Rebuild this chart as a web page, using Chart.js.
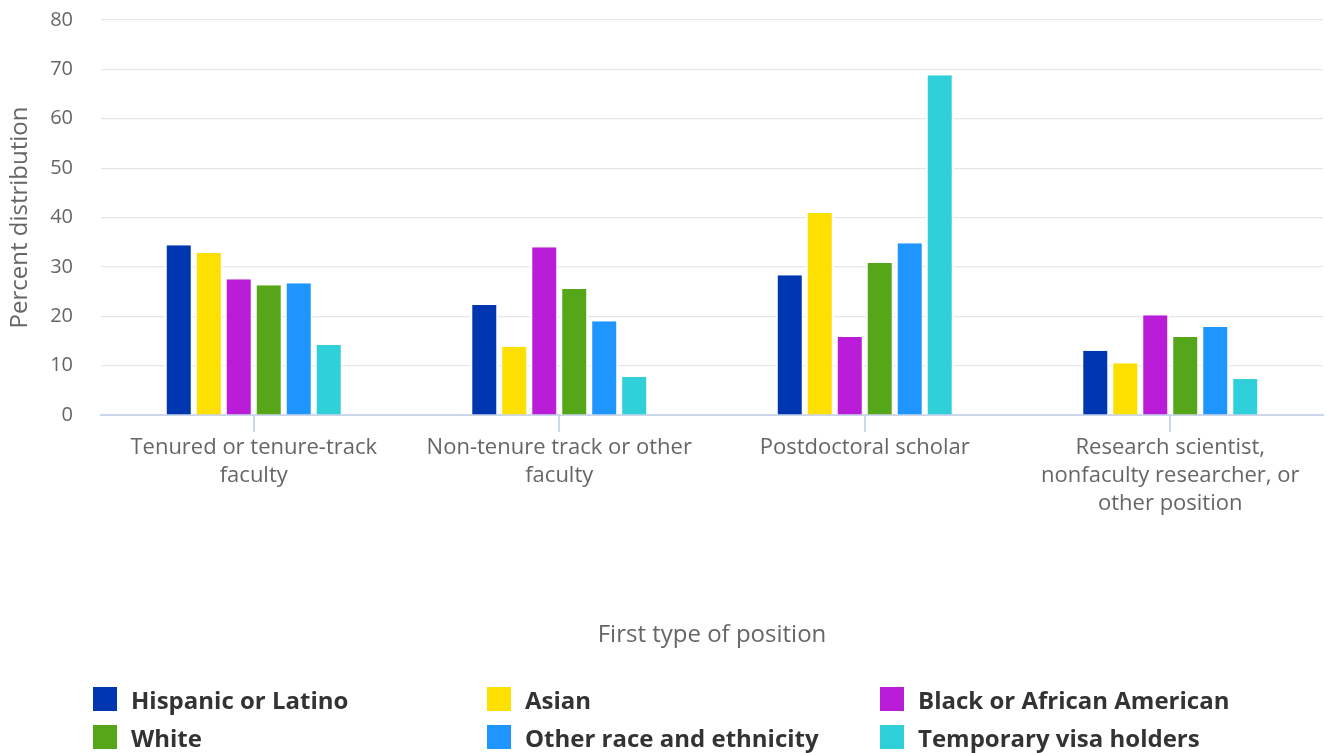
<!DOCTYPE html>
<html>
<head>
<meta charset="utf-8">
<script src="https://cdn.jsdelivr.net/npm/chart.js@4/dist/chart.umd.min.js"></script>
<style>
  html, body { margin:0; padding:0; background:#fff; }
  #wrap { position:relative; width:1327px; height:753px; font-family:"Open Sans", sans-serif; }
  #c { position:absolute; left:0; top:0; }
  #legend { position:absolute; left:0; top:0; width:1327px; height:753px; pointer-events:none; }
  .item { position:absolute; display:flex; align-items:center; font-weight:700; font-size:24px; color:#333; white-space:nowrap; }
  .box { width:24px; height:24px; margin-right:14px; flex:none; }
</style>
</head>
<body>
<div id="wrap">
  <canvas id="c" width="1327" height="753"></canvas>
  <div id="legend"></div>
</div>
<script>
const categories = [
  ["Tenured or tenure-track", "faculty"],
  ["Non-tenure track or other", "faculty"],
  ["Postdoctoral scholar"],
  ["Research scientist,", "nonfaculty researcher, or", "other position"]
];
const seriesNames = ["Hispanic or Latino", "Asian", "Black or African American", "White", "Other race and ethnicity", "Temporary visa holders"];
const hispanic = [34.4, 22.3, 28.3, 13.0];
const asian    = [32.8, 13.8, 40.9, 10.5];
const black    = [27.5, 34.0, 15.8, 20.2];
const white    = [26.3, 25.5, 30.8, 15.8];
const other    = [26.7, 19.0, 34.8, 17.8];
const visa     = [14.2, 7.7, 68.8, 7.3];
const seriesColors = ["#0037B1", "#FDE000", "#B91DD7", "#56A61A", "#1E95FF", "#2FD0DA"];
const yTicks = [0, 10, 20, 30, 40, 50, 60, 70, 80];
const yTitle = "Percent distribution";
const xTitle = "First type of position";

const values = [hispanic, asian, black, white, other, visa];
const datasets = seriesNames.map((n, i) => ({
  label: n,
  data: values[i],
  backgroundColor: seriesColors[i],
  borderColor: "#ffffff",
  borderWidth: {left: 2, right: 2, top: 0, bottom: 0},
  borderSkipped: false,
  categoryPercentage: 0.589,
  barPercentage: 0.933
}));

new Chart(document.getElementById("c"), {
  type: "bar",
  data: { labels: categories, datasets },
  options: {
    responsive: false,
    animation: false,
    layout: { padding: { top: 20, left: 0, right: 4, bottom: 100 } },
    plugins: { legend: { display: false }, tooltip: { enabled: false } },
    scales: {
      x: {
        afterFit: (s) => { s.height = 238; },
        grid: { display: true, drawOnChartArea: false, drawTicks: true, tickLength: 17, color: "#ccd6eb", lineWidth: 2, offset: false },
        border: { display: true, color: "#ccd6eb", width: 2 },
        ticks: { color: "#666", font: { family: "Open Sans", size: 22, lineHeight: 1.27 }, padding: 2, maxRotation: 0, autoSkip: false },
        title: { display: true, text: xTitle, color: "#666", font: { family: "Open Sans", size: 24 }, padding: { top: 0, bottom: 3 } }
      },
      y: {
        min: 0, max: 80,
        afterBuildTicks: (s) => { s.ticks = yTicks.map(v => ({ value: v })); },
        afterFit: (s) => { s.width = 101; },
        grid: { color: "#e6e6e6", lineWidth: 1.2, drawTicks: true, tickLength: 28, tickColor: "rgba(0,0,0,0)" },
        border: { display: false },
        ticks: { color: "#666", font: { family: "Open Sans", size: 20 }, padding: 0 },
        title: { display: true, text: yTitle, color: "#666", font: { family: "Open Sans", size: 24 }, padding: { top: 6, bottom: 0 } }
      }
    }
  }
});

const legend = document.getElementById("legend");
const colX = [93, 487, 880];
const rowY = [687, 725];
seriesNames.forEach((n, i) => {
  const d = document.createElement("div");
  d.className = "item";
  d.style.left = colX[i % 3] + "px";
  d.style.top = rowY[Math.floor(i / 3)] + "px";
  d.style.height = "24px";
  const b = document.createElement("div");
  b.className = "box";
  b.style.background = seriesColors[i];
  const t = document.createElement("span");
  t.textContent = n;
  d.appendChild(b); d.appendChild(t);
  legend.appendChild(d);
});
</script>
</body>
</html>
